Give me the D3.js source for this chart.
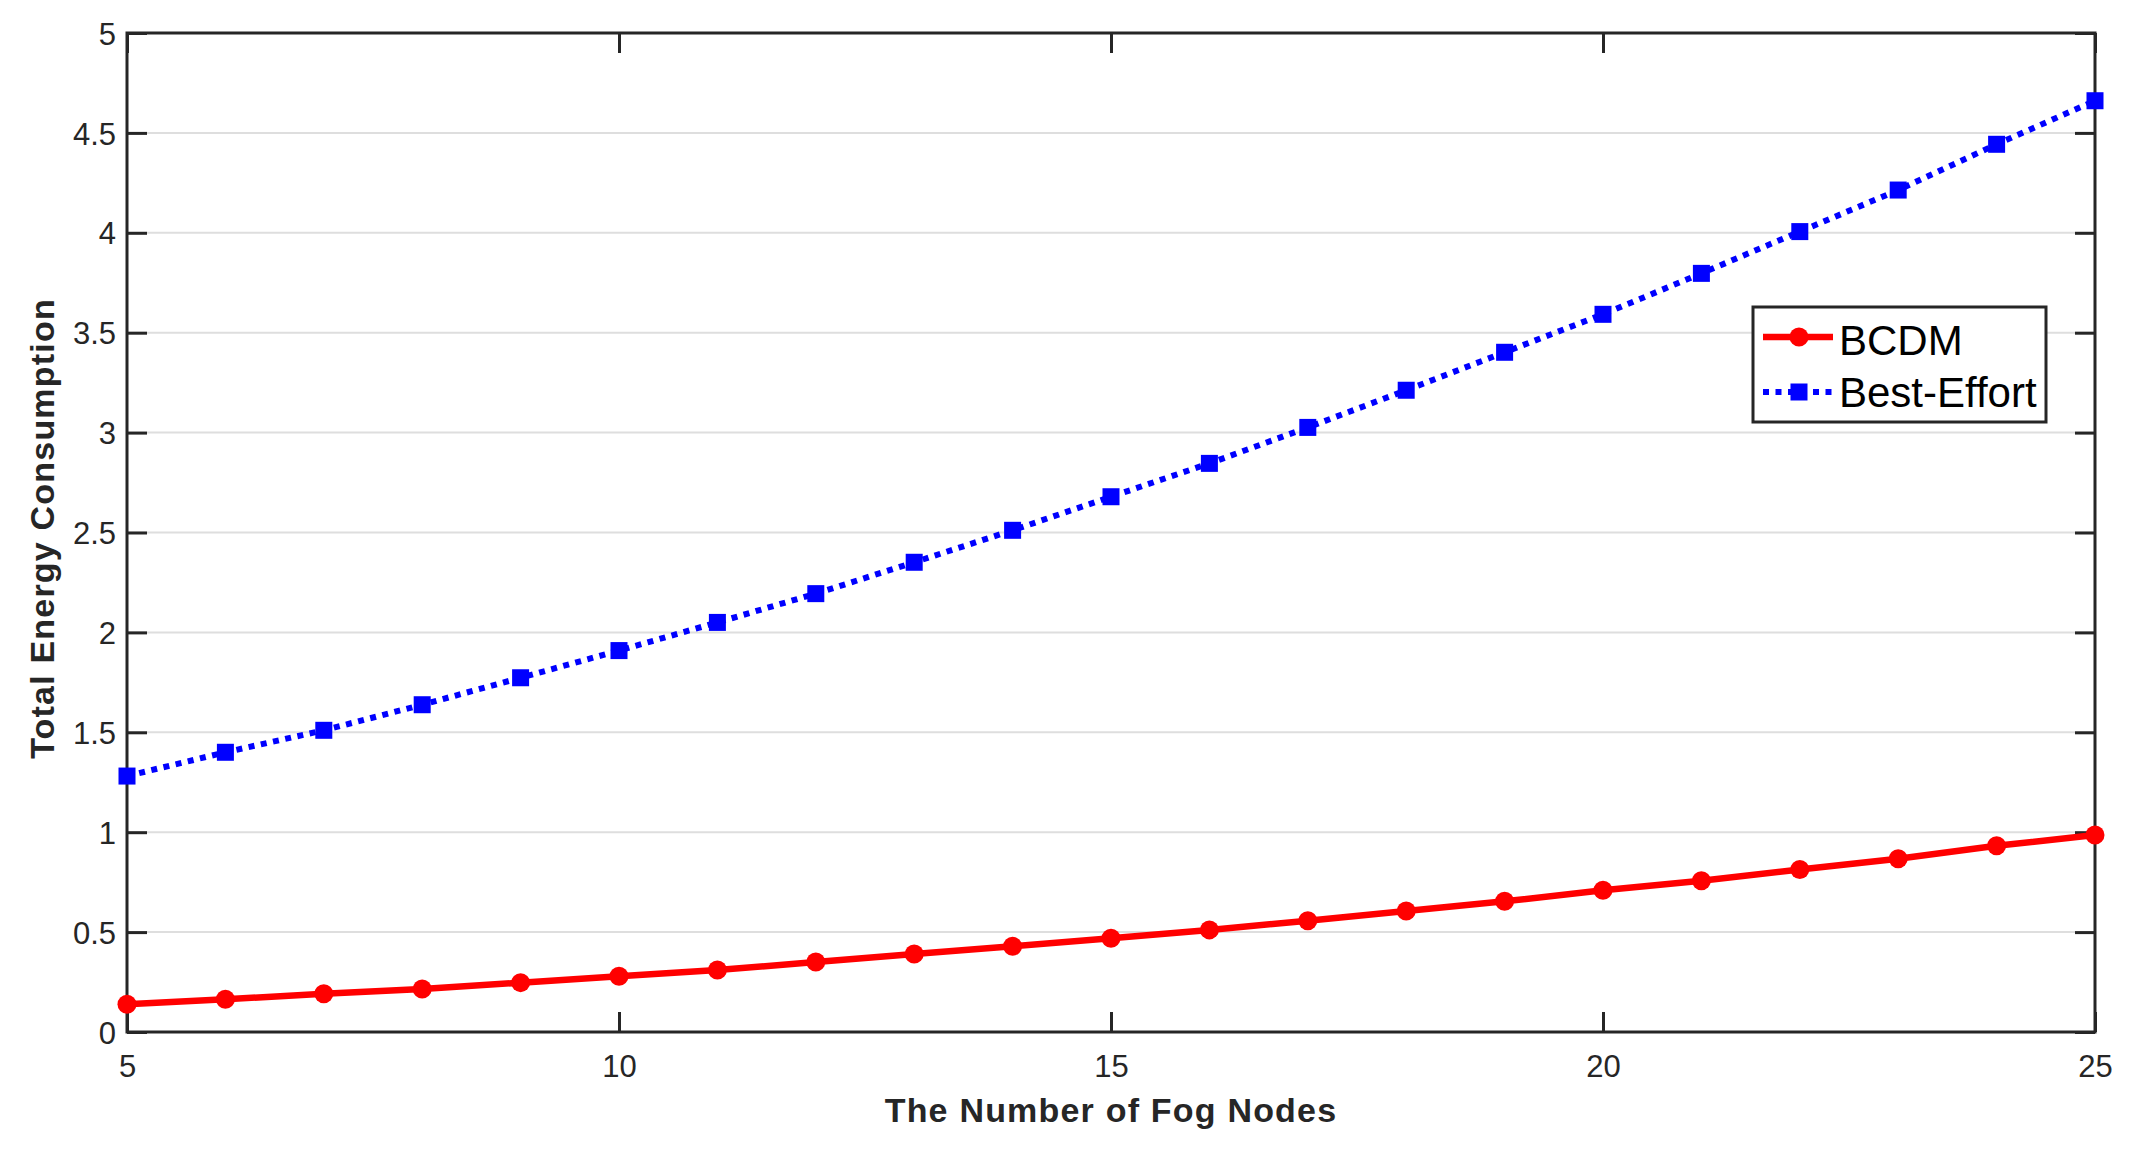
<!DOCTYPE html>
<html>
<head>
<meta charset="utf-8">
<script src="https://cdn.jsdelivr.net/npm/d3@7"></script>
<style>
  body { margin: 0; background: #fff; }
  svg { display: block; }
  text { font-family: "Liberation Sans", Arial, Helvetica, sans-serif; }
</style>
</head>
<body>
<svg id="chart" width="2138" height="1157"></svg>
<script>
const fogNodes = [5,6,7,8,9,10,11,12,13,14,15,16,17,18,19,20,21,22,23,24,25];
const bcdm = [0.139,0.164,0.191,0.215,0.247,0.279,0.310,0.350,0.390,0.429,0.469,0.511,0.557,0.606,0.654,0.709,0.757,0.813,0.867,0.932,0.986];
const bestEffort = [1.281,1.400,1.510,1.638,1.773,1.909,2.050,2.194,2.351,2.511,2.679,2.846,3.026,3.212,3.402,3.592,3.797,4.006,4.214,4.443,4.661];
const xTicks = [5,10,15,20,25];
const yTicks = [0,0.5,1,1.5,2,2.5,3,3.5,4,4.5,5];
const seriesNames = ["BCDM","Best-Effort"];
const xLabel = "The Number of Fog Nodes";
const yLabel = "Total Energy Consumption";

const W = 2138, H = 1157;
const m = {left:127, top:33, right:43, bottom:125};
const x0 = m.left, x1 = W - m.right, y0 = H - m.bottom, y1 = m.top;
const svg = d3.select("#chart");
const axisColor = "#262626";

const x = d3.scaleLinear().domain([5,25]).range([x0,x1]);
const y = d3.scaleLinear().domain([0,5]).range([y0,y1]);

// grid
svg.append("g").selectAll("line").data(yTicks.filter(t=>t>0 && t<5)).join("line")
  .attr("x1",x0).attr("x2",x1).attr("y1",d=>y(d)).attr("y2",d=>y(d))
  .attr("stroke","#dedede").attr("stroke-width",2);

const tickLen = 20;
function styleAxis(g){
  g.select(".domain").remove();
  g.selectAll(".tick line").attr("stroke",axisColor).attr("stroke-width",3);
  g.selectAll(".tick text").attr("fill",axisColor).style("font-size","31px")
   .style("font-family","'Liberation Sans', Arial, sans-serif");
}
const fmt = d => d3.format("")(d);
// bottom
svg.append("g").attr("transform",`translate(0,${y0})`)
  .call(d3.axisBottom(x).tickValues(xTicks).tickFormat(fmt).tickSizeInner(-tickLen).tickSizeOuter(0).tickPadding(33))
  .call(styleAxis)
  .call(g=>g.selectAll(".tick text").attr("dy","0.8em").attr("y",20));
// top
svg.append("g").attr("transform",`translate(0,${y1})`)
  .call(d3.axisTop(x).tickValues(xTicks).tickFormat("").tickSizeInner(-tickLen).tickSizeOuter(0))
  .call(styleAxis);
// left
svg.append("g").attr("transform",`translate(${x0},0)`)
  .call(d3.axisLeft(y).tickValues(yTicks).tickFormat(fmt).tickSizeInner(-tickLen).tickSizeOuter(0).tickPadding(11))
  .call(styleAxis)
  .call(g=>g.selectAll(".tick text").attr("x",-11).attr("dy","0.36em"));
// right
svg.append("g").attr("transform",`translate(${x1},0)`)
  .call(d3.axisRight(y).tickValues(yTicks).tickFormat("").tickSizeInner(-tickLen).tickSizeOuter(0))
  .call(styleAxis);

// frame
svg.append("rect").attr("x",x0).attr("y",y1).attr("width",x1-x0).attr("height",y0-y1)
  .attr("fill","none").attr("stroke",axisColor).attr("stroke-width",3);

// lines
const line = d3.line().x(d=>x(d[0])).y(d=>y(d[1]));
const redData = fogNodes.map((f,i)=>[f,bcdm[i]]);
const blueData = fogNodes.map((f,i)=>[f,bestEffort[i]]);

svg.append("path").datum(blueData).attr("d",line)
  .attr("fill","none").attr("stroke","#0000ff").attr("stroke-width",6)
  .attr("stroke-dasharray","6,6.5");
svg.append("g").selectAll("rect").data(blueData).join("rect")
  .attr("x",d=>x(d[0])-8.5).attr("y",d=>y(d[1])-8.5).attr("width",17).attr("height",17)
  .attr("fill","#0000ff");

svg.append("path").datum(redData).attr("d",line)
  .attr("fill","none").attr("stroke","#ff0000").attr("stroke-width",6.5);
svg.append("g").selectAll("circle").data(redData).join("circle")
  .attr("cx",d=>x(d[0])).attr("cy",d=>y(d[1])).attr("r",9.5).attr("fill","#ff0000");

// axis labels
svg.append("text").attr("x",(x0+x1)/2).attr("y",1122).attr("text-anchor","middle")
  .attr("fill",axisColor).style("font-size","34px").style("font-weight","bold")
  .style("letter-spacing","1.2px").text(xLabel);
svg.append("text").attr("transform",`translate(54,${(y0+y1)/2 - 4}) rotate(-90)`).attr("text-anchor","middle")
  .attr("fill",axisColor).style("font-size","34px").style("font-weight","bold")
  .style("letter-spacing","1.2px").text(yLabel);

// legend
const lg = svg.append("g");
lg.append("rect").attr("x",1753).attr("y",307).attr("width",293).attr("height",115)
  .attr("fill","#fff").attr("stroke",axisColor).attr("stroke-width",3);
const rows = [
  {name:seriesNames[0], yy:337, color:"#ff0000", dash:null, marker:"circle", base:355},
  {name:seriesNames[1], yy:392, color:"#0000ff", dash:"6,6.5", marker:"square", base:407}
];
rows.forEach(r=>{
  lg.append("line").attr("x1",1763).attr("x2",1833).attr("y1",r.yy).attr("y2",r.yy)
    .attr("stroke",r.color).attr("stroke-width",r.dash?6:6.5).attr("stroke-dasharray",r.dash);
  if(r.marker==="circle") lg.append("circle").attr("cx",1799).attr("cy",r.yy).attr("r",9.5).attr("fill",r.color);
  else lg.append("rect").attr("x",1799-8.5).attr("y",r.yy-8.5).attr("width",17).attr("height",17).attr("fill",r.color);
  lg.append("text").attr("x",1839).attr("y",r.base).attr("fill","#000").style("font-size","42px").text(r.name);
});
</script>
</body>
</html>
